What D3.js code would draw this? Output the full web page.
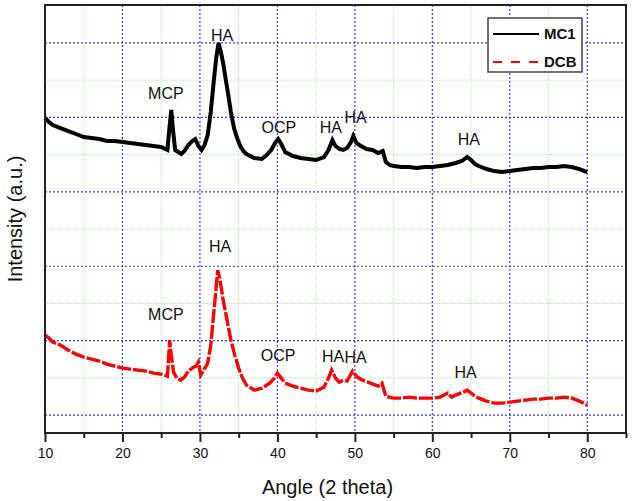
<!DOCTYPE html>
<html>
<head>
<meta charset="utf-8">
<script src="https://cdn.jsdelivr.net/npm/d3@7"></script>
<style>
  body { margin: 0; background: #fff; }
  svg { display: block; font-family: Arial, "Liberation Sans", sans-serif; }
</style>
</head>
<body>
<div id="chart"></div>
<script>
// Angle (2 theta) and intensity (a.u.)
const mc1Angle = [10, 10.5, 11, 12, 13, 14, 15, 16, 17, 18, 19, 20, 21, 22, 23, 24, 25, 25.8, 26.1, 26.3, 26.5, 26.8, 27.2, 27.6, 28, 28.5, 29, 29.4, 29.8, 30.2, 30.6, 31, 31.4, 31.8, 32.1, 32.4, 32.7, 33, 33.3, 33.6, 34, 34.4, 34.8, 35.2, 35.6, 36, 37, 38, 38.6, 39.2, 39.7, 40.1, 40.5, 41, 42, 43, 44, 45, 46, 46.6, 47.1, 47.5, 48, 48.5, 49, 49.5, 49.8, 50.2, 50.8, 51.5, 52.3, 53, 53.6, 54, 54.5, 55, 56, 57, 58, 59, 60, 61, 62, 63, 63.8, 64.5, 65, 65.5, 66, 67, 68, 69, 70, 71, 72, 73, 74, 75, 76, 77, 78, 79, 80];
const mc1Value = [3992, 3938, 3898, 3857, 3817, 3777, 3736, 3723, 3709, 3683, 3683, 3669, 3656, 3642, 3629, 3615, 3602, 3562, 3898, 4099, 3857, 3562, 3535, 3508, 3548, 3629, 3683, 3709, 3615, 3562, 3629, 3763, 4072, 4502, 4798, 5000, 4879, 4731, 4529, 4341, 4072, 3857, 3723, 3615, 3548, 3508, 3454, 3441, 3494, 3562, 3656, 3709, 3642, 3535, 3481, 3454, 3441, 3427, 3468, 3562, 3696, 3615, 3575, 3562, 3588, 3669, 3750, 3656, 3615, 3575, 3562, 3521, 3548, 3400, 3360, 3347, 3333, 3333, 3320, 3333, 3333, 3347, 3360, 3387, 3414, 3468, 3427, 3373, 3347, 3306, 3279, 3266, 3279, 3293, 3306, 3320, 3320, 3333, 3333, 3347, 3333, 3306, 3266];

const dcbAngle = [10, 10.5, 11, 12, 13, 14, 15, 16, 17, 18, 19, 20, 21, 22, 23, 24, 25, 25.8, 26.1, 26.3, 26.6, 27, 27.5, 28, 28.5, 29, 29.5, 29.8, 30.1, 30.5, 31, 31.4, 31.7, 32, 32.3, 32.6, 33, 33.5, 34, 34.5, 35, 35.5, 36, 37, 38, 39, 39.6, 40, 40.5, 41, 42, 43, 44, 45, 46, 46.6, 47, 47.5, 48, 48.5, 49, 49.7, 50.3, 51, 52, 53, 53.5, 54, 55, 56, 57, 58, 59, 60, 61, 62, 62.5, 63, 64, 64.5, 65, 65.5, 66, 67, 68, 69, 70, 71, 72, 73, 74, 75, 76, 77, 78, 79, 80];
const dcbValue = [1075, 1035, 981, 941, 874, 820, 780, 753, 726, 685, 659, 632, 618, 605, 591, 564, 551, 524, 1008, 806, 578, 497, 470, 511, 591, 632, 659, 712, 538, 605, 699, 941, 1277, 1613, 1949, 1814, 1546, 1277, 1008, 806, 632, 497, 403, 336, 363, 430, 497, 564, 497, 430, 390, 363, 336, 323, 376, 497, 605, 497, 444, 470, 457, 591, 511, 470, 430, 390, 430, 255, 228, 228, 242, 228, 228, 228, 242, 296, 242, 269, 309, 336, 296, 255, 228, 188, 161, 161, 175, 188, 202, 215, 215, 228, 228, 242, 228, 188, 134];

// peak labels: [angle, intensity at text baseline, text]
const mc1Labels = [[25.6, 4247, "MCP"], [32.85, 5027, "HA"], [40.2, 3790, "OCP"], [46.9, 3790, "HA"], [50.1, 3925, "HA"], [64.7, 3629, "HA"]];
const dcbLabels = [[25.6, 1277, "MCP"], [32.6, 2191, "HA"], [40.1, 726, "OCP"], [47.2, 712, "HA"], [50.1, 699, "HA"], [64.3, 497, "HA"]];

const xTicks = [10, 20, 30, 40, 50, 60, 70, 80];
const xMinorTicks = [15, 25, 35, 45, 55, 65, 75, 85];
const yMajorGrid = [0, 1000, 2000, 3000, 4000, 5000];
const yMinorGrid = [500, 1500, 2500, 3500, 4500];

const series = [
  { name: "MC1", angle: mc1Angle, value: mc1Value, color: "#000", dash: null, width: 4 },
  { name: "DCB", angle: dcbAngle, value: dcbValue, color: "#ff0000", dash: "14,2", width: 3.4 }
];

const W = 633, H = 501;
const margin = { top: 5, right: 7, bottom: 68, left: 45 };
const iw = W - margin.left - margin.right;
const ih = H - margin.top - margin.bottom;

const svg = d3.select("#chart").append("svg")
  .attr("width", W).attr("height", H);

const g = svg.append("g").attr("transform", `translate(${margin.left},${margin.top})`);

const x = d3.scaleLinear().domain([10, 85]).range([0, iw]);
const y = d3.scaleLinear().domain([-240, 5510]).range([ih, 0]);

// minor grid (light green dotted)
g.append("g").selectAll("line").data(xMinorTicks.filter(d => d < 85)).enter()
  .append("line")
  .attr("x1", d => x(d)).attr("x2", d => x(d))
  .attr("y1", 0).attr("y2", ih)
  .attr("stroke", "#a8eca8").attr("stroke-width", 1).attr("stroke-dasharray", "1,1");
g.append("g").selectAll("line").data(yMinorGrid).enter()
  .append("line")
  .attr("x1", 0).attr("x2", iw)
  .attr("y1", d => y(d)).attr("y2", d => y(d))
  .attr("stroke", "#a8eca8").attr("stroke-width", 1).attr("stroke-dasharray", "1,1");

// major grid (blue dashed)
g.append("g").selectAll("line").data(xTicks.filter(d => d > 10)).enter()
  .append("line")
  .attr("x1", d => x(d)).attr("x2", d => x(d))
  .attr("y1", 0).attr("y2", ih)
  .attr("stroke", "#3b3bf0").attr("stroke-width", 1.2).attr("stroke-dasharray", "2,2");
g.append("g").selectAll("line").data(yMajorGrid).enter()
  .append("line")
  .attr("x1", 0).attr("x2", iw)
  .attr("y1", d => y(d)).attr("y2", d => y(d))
  .attr("stroke", "#3b3bf0").attr("stroke-width", 1.2).attr("stroke-dasharray", "2,2");

// curves
const line = d3.line()
  .x(d => x(d[0]))
  .y(d => y(d[1]));

series.forEach(s => {
  const pts = s.angle.map((a, i) => [a, s.value[i]]);
  g.append("path")
    .datum(pts)
    .attr("d", line)
    .attr("fill", "none")
    .attr("stroke", s.color)
    .attr("stroke-width", s.width)
    .attr("stroke-linejoin", "miter")
    .attr("stroke-miterlimit", 3)
    .attr("stroke-dasharray", s.dash);
});

// peak annotations
[mc1Labels, dcbLabels].forEach(labels => {
  g.append("g").selectAll("text").data(labels).enter()
    .append("text")
    .attr("x", d => x(d[0]))
    .attr("y", d => y(d[1]))
    .attr("text-anchor", "middle")
    .attr("font-size", 16)
    .attr("fill", "#111")
    .text(d => d[2]);
});

// frame
g.append("rect")
  .attr("x", 0).attr("y", 0).attr("width", iw).attr("height", ih)
  .attr("fill", "none").attr("stroke", "#222").attr("stroke-width", 2);

// x axis
const xAxis = g.append("g")
  .attr("transform", `translate(0,${ih})`)
  .call(d3.axisBottom(x).tickValues(xTicks).tickSize(9).tickPadding(6).tickFormat(d3.format("d")));
xAxis.select(".domain").remove();
xAxis.selectAll(".tick line").attr("stroke", "#222").attr("stroke-width", 2);
xAxis.selectAll(".tick text").attr("font-size", 14).attr("font-family", "Arial, 'Liberation Sans', sans-serif").attr("fill", "#111");

const xMinor = g.append("g")
  .attr("transform", `translate(0,${ih})`)
  .call(d3.axisBottom(x).tickValues(xMinorTicks).tickSize(5).tickFormat(""));
xMinor.select(".domain").remove();
xMinor.selectAll(".tick line").attr("stroke", "#222").attr("stroke-width", 2);

// axis titles
svg.append("text")
  .attr("x", margin.left + x(47.5) - 8)
  .attr("y", 494)
  .attr("text-anchor", "middle")
  .attr("font-size", 20)
  .attr("fill", "#111")
  .text("Angle (2 theta)");

svg.append("text")
  .attr("transform", `translate(22,${margin.top + ih / 2}) rotate(-90)`)
  .attr("text-anchor", "middle")
  .attr("font-size", 20)
  .attr("fill", "#111")
  .text("Intensity (a.u.)");

// legend
const lg = svg.append("g").attr("transform", "translate(488,18)");
lg.append("rect")
  .attr("width", 94).attr("height", 54)
  .attr("fill", "#fff").attr("stroke", "#444").attr("stroke-width", 1.5);
series.forEach((s, i) => {
  const ly = 16 + i * 28;
  lg.append("line")
    .attr("x1", 5).attr("x2", 51).attr("y1", ly).attr("y2", ly)
    .attr("stroke", s.color).attr("stroke-width", 2)
    .attr("stroke-dasharray", s.dash ? "9,9" : null);
  lg.append("text")
    .attr("x", 56).attr("y", ly + 5)
    .attr("font-size", 15).attr("font-weight", "bold").attr("fill", "#111")
    .text(s.name);
});
</script>
</body>
</html>
